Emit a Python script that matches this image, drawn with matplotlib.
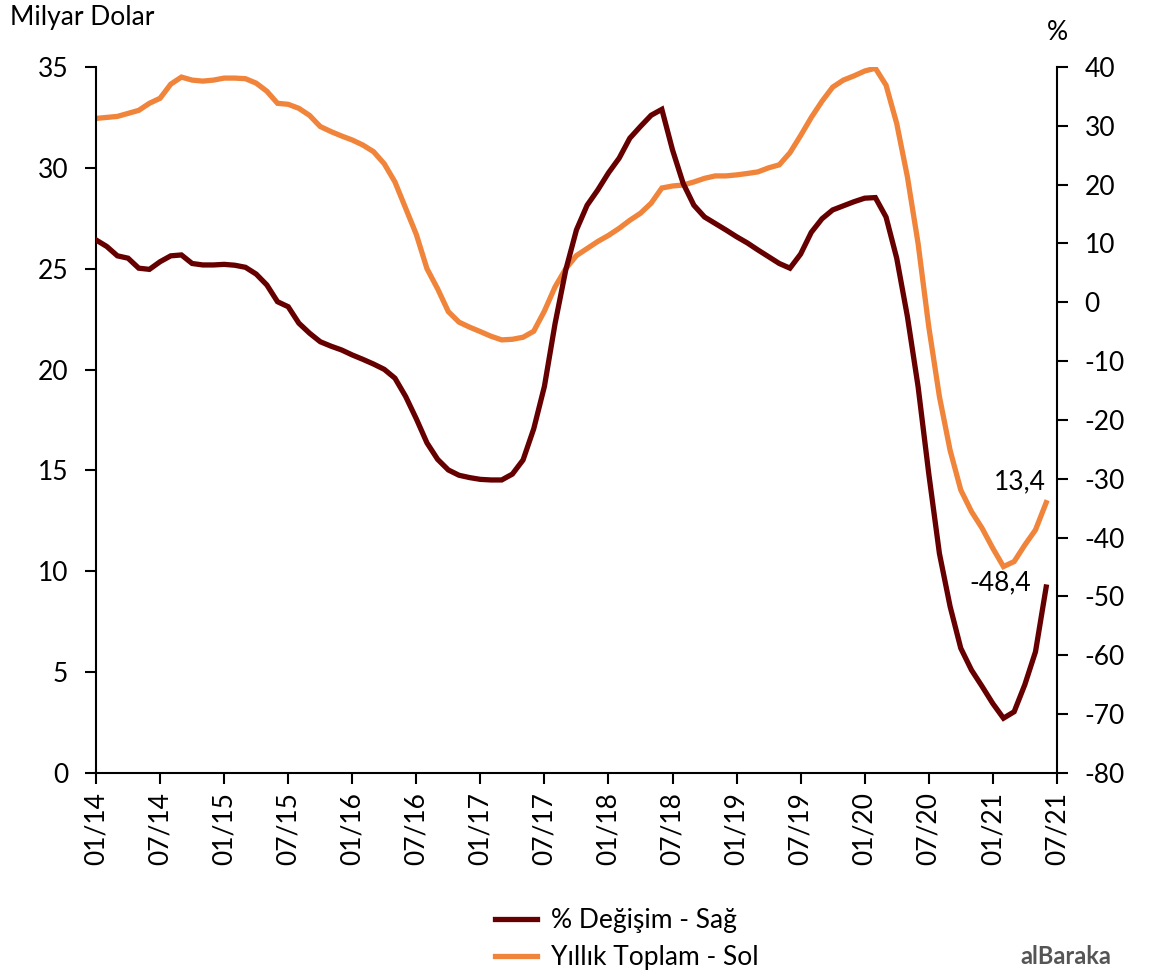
import matplotlib.pyplot as plt
import numpy as np

plt.rcParams['font.family'] = ['Lato', 'DejaVu Sans']
plt.rcParams['axes.unicode_minus'] = False

# Aylik veriler: 01/14 - 06/21
yillik_toplam = [
    32.45, 32.5, 32.55, 32.7, 32.85, 33.2, 33.45, 34.15, 34.5, 34.35,
    34.3, 34.35, 34.45, 34.45, 34.42, 34.2, 33.8, 33.2, 33.15, 32.95,
    32.6, 32.05, 31.8, 31.58, 31.38, 31.13, 30.8, 30.2, 29.3, 28.0,
    26.7, 25.0, 24.0, 22.87, 22.35, 22.1, 21.88, 21.65, 21.47, 21.5,
    21.6, 21.9, 22.9, 24.1, 25.0, 25.65, 26.0, 26.35, 26.65, 27.0,
    27.4, 27.75, 28.25, 29.0, 29.1, 29.15, 29.3, 29.48, 29.6, 29.6,
    29.65, 29.72, 29.8, 30.0, 30.15, 30.75, 31.6, 32.5, 33.3, 34.0,
    34.35, 34.56, 34.8, 34.94, 34.1, 32.2, 29.56, 26.26, 22.13, 18.66,
    16.0, 14.03, 12.96, 12.13, 11.14, 10.23, 10.48, 11.3, 12.05, 13.4,
]
degisim = [
    10.6, 9.5, 7.9, 7.5, 5.8, 5.6, 6.9, 7.9, 8.05, 6.6,
    6.35, 6.35, 6.45, 6.3, 5.95, 4.8, 2.95, 0.1, -0.75, -3.55,
    -5.25, -6.7, -7.45, -8.1, -8.95, -9.7, -10.5, -11.4, -12.9, -16.0,
    -19.8, -23.9, -26.7, -28.5, -29.4, -29.8, -30.1, -30.2, -30.2, -29.2,
    -26.8, -21.5, -14.3, -3.6, 5.5, 12.3, 16.5, 19.1, 22.0, 24.5,
    27.9, 29.9, 31.8, 32.8, 25.9, 20.2, 16.5, 14.5, 13.4, 12.3,
    11.15, 10.1, 8.9, 7.75, 6.6, 5.8, 8.2, 11.9, 14.2, 15.7,
    16.4, 17.1, 17.7, 17.8, 14.5, 7.5, -2.4, -14.3, -29.1, -42.7,
    -51.7, -58.8, -62.5, -65.3, -68.2, -70.7, -69.6, -65.0, -59.4, -48.4,
]
tick_labels = ['01/14', '07/14', '01/15', '07/15', '01/16', '07/16', '01/17', '07/17',
               '01/18', '07/18', '01/19', '07/19', '01/20', '07/20', '01/21', '07/21']

koyu = '#660000'
turuncu = '#F0843A'
fs = 19
x = np.arange(len(yillik_toplam))

fig = plt.figure(figsize=(11.5, 9.71), dpi=100)
ax = fig.add_axes([0.0835, 0.204, 0.8355, 0.727])
ax2 = ax.twinx()

l2, = ax.plot(x, yillik_toplam, color=turuncu, lw=3.8, solid_joinstyle='miter')
l1, = ax2.plot(x, degisim, color=koyu, lw=3.8, solid_joinstyle='miter')

ax.set_xlim(0, 90)
ax.set_ylim(0, 35)
ax2.set_ylim(-80, 40)
ax.set_xticks(np.arange(0, 91, 6))
ax.set_xticklabels(tick_labels, rotation=90)
ax.set_yticks(np.arange(0, 36, 5))
ax2.set_yticks(np.arange(-80, 41, 10))

for a in (ax, ax2):
    a.spines['top'].set_visible(False)
    for s in a.spines.values():
        s.set_linewidth(1.5)
    a.tick_params(length=8, width=1.5, labelsize=fs, direction='out', pad=12)
ax.tick_params(axis='x', pad=6)
ax.spines['right'].set_visible(False)
ax2.spines['left'].set_visible(False)
ax2.spines['bottom'].set_visible(False)

ax.text(10 / 1150, 1 - 18 / 971, 'Milyar Dolar', transform=fig.transFigure,
        fontsize=fs, va='center', ha='left')
ax.text(1057 / 1150, 1 - 32 / 971, '%', transform=fig.transFigure,
        fontsize=fs, va='center', ha='center')

ax.annotate('13,4', xy=(x[-1], yillik_toplam[-1]), xytext=(0, 6),
            textcoords='offset points', ha='right', va='bottom', fontsize=fs)
ax2.annotate('-48,4', xy=(x[-1], degisim[-1]), xytext=(-11, 3),
             textcoords='offset points', ha='right', va='center', fontsize=fs)

fig.legend([l1, l2], ['% Değişim - Sağ', 'Yıllık Toplam - Sol'],
           loc='center', bbox_to_anchor=(0.545, 0.033), frameon=False,
           fontsize=fs, handlelength=1.6, labelspacing=0.45, handletextpad=0.5)

fig.text(1020 / 1150, 1 - 968 / 971, 'alBaraka', color='#555555', fontsize=17,
         fontweight='bold', ha='left', va='bottom')

fig.savefig('out.png', dpi=100)
